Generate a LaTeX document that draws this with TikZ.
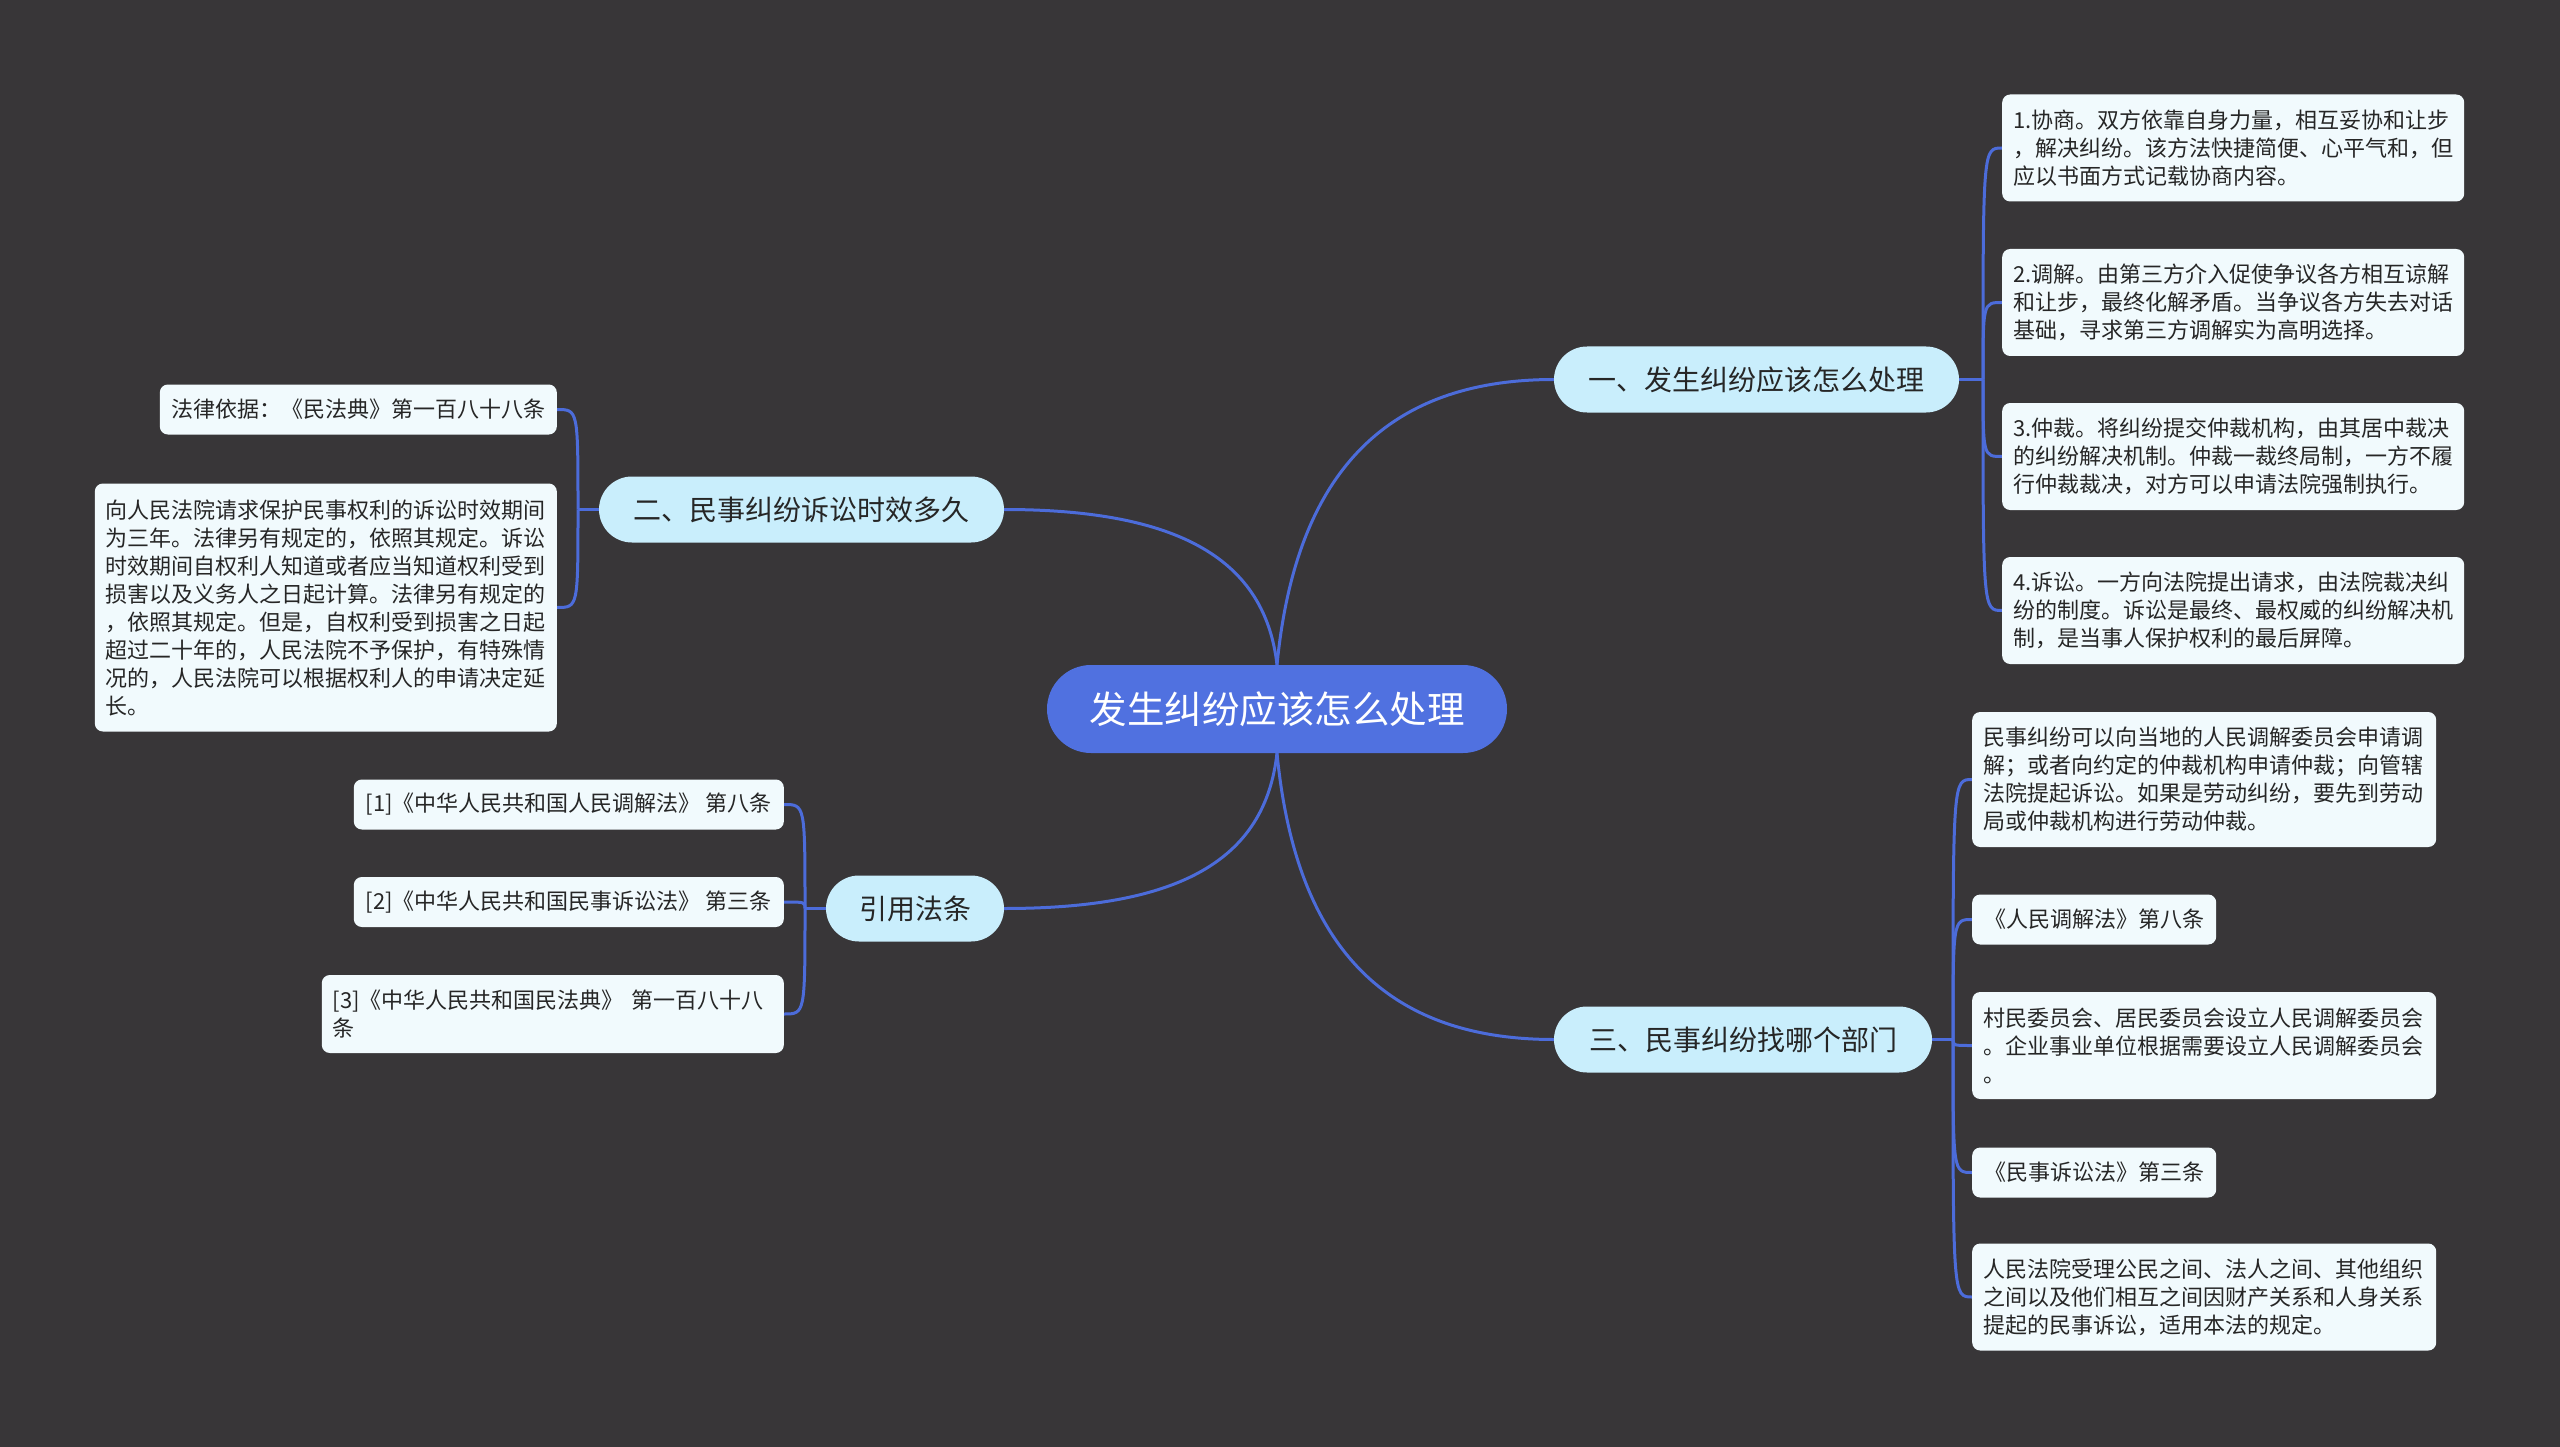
\documentclass[tikz,border=0pt]{standalone}
\usepackage{fontspec}
\newfontfamily\cjk{Noto Sans CJK SC}
\definecolor{bgcol}{HTML}{383638}
\definecolor{linecol}{HTML}{4C6CDA}
\definecolor{centerfill}{HTML}{5071E0}
\definecolor{branchfill}{HTML}{C9EEFC}
\definecolor{leaffill}{HTML}{F1FAFD}
\definecolor{txt}{HTML}{262626}
\pgfdeclarelayer{bglayer}
\pgfsetlayers{bglayer,main}
\begin{document}
\begin{tikzpicture}[x=1pt,y=-1pt,
  conn/.style={draw=linecol,line width=3pt},
  centralnode/.style={fill=centerfill,rounded corners=44pt,minimum width=460pt,minimum height=88pt,inner sep=0pt,text=white,font=\cjk\fontsize{37.5}{44}\selectfont},
  branchnode/.style={fill=branchfill,rounded corners=33pt,minimum height=66pt,inner xsep=20pt,inner ysep=0pt,text=txt,font=\cjk\fontsize{28}{34}\selectfont},
  leafnode/.style={fill=leaffill,rounded corners=8pt,inner xsep=11pt,inner ysep=0pt,text=txt,font=\cjk\fontsize{22}{28}\selectfont,align=left}]
\begin{pgfonlayer}{bglayer}
\fill[bgcol] (0,0) rectangle (2560,1447);
\end{pgfonlayer}
\useasboundingbox (0,0) rectangle (2560,1447);

% central and branches
\node[centralnode] (c) at (1277,709) {发生纠纷应该怎么处理};
\node[branchnode,minimum width=405pt] (b1) at (1756.5,379.5) {一、发生纠纷应该怎么处理};
\node[branchnode,minimum width=405pt] (b2) at (801.5,509.5) {二、民事纠纷诉讼时效多久};
\node[branchnode,minimum width=378pt] (b3) at (1743,1039.5) {三、民事纠纷找哪个部门};
\node[branchnode,minimum width=178pt] (b4) at (915,908.5) {引用法条};

% right top leaves
\node[leafnode,anchor=west,text width=440pt,minimum height=107pt] (l1) at (2002,148) {1.协商。双方依靠自身力量，相互妥协和让步\\，解决纠纷。该方法快捷简便、心平气和，但\\应以书面方式记载协商内容。};
\node[leafnode,anchor=west,text width=440pt,minimum height=107pt] (l2) at (2002,302.5) {2.调解。由第三方介入促使争议各方相互谅解\\和让步，最终化解矛盾。当争议各方失去对话\\基础，寻求第三方调解实为高明选择。};
\node[leafnode,anchor=west,text width=440pt,minimum height=107pt] (l3) at (2002,456.5) {3.仲裁。将纠纷提交仲裁机构，由其居中裁决\\的纠纷解决机制。仲裁一裁终局制，一方不履\\行仲裁裁决，对方可以申请法院强制执行。};
\node[leafnode,anchor=west,text width=440pt,minimum height=107pt] (l4) at (2002,610.5) {4.诉讼。一方向法院提出请求，由法院裁决纠\\纷的制度。诉讼是最终、最权威的纠纷解决机\\制，是当事人保护权利的最后屏障。};

% right bottom leaves
\node[leafnode,anchor=west,text width=442pt,minimum height=135pt] (r1) at (1972,779.5) {民事纠纷可以向当地的人民调解委员会申请调\\解；或者向约定的仲裁机构申请仲裁；向管辖\\法院提起诉讼。如果是劳动纠纷，要先到劳动\\局或仲裁机构进行劳动仲裁。};
\node[leafnode,anchor=west,minimum width=244pt,minimum height=50pt] (r2) at (1972,919.5) {《人民调解法》第八条};
\node[leafnode,anchor=west,text width=442pt,minimum height=107pt] (r3) at (1972,1045.5) {村民委员会、居民委员会设立人民调解委员会\\。企业事业单位根据需要设立人民调解委员会\\。};
\node[leafnode,anchor=west,minimum width=244pt,minimum height=50pt] (r4) at (1972,1172.5) {《民事诉讼法》第三条};
\node[leafnode,anchor=west,text width=442pt,minimum height=107pt] (r5) at (1972,1297) {人民法院受理公民之间、法人之间、其他组织\\之间以及他们相互之间因财产关系和人身关系\\提起的民事诉讼，适用本法的规定。};

% left leaves
\node[leafnode,anchor=east,minimum width=397pt,minimum height=50pt] (la) at (557,409.5) {法律依据：《民法典》第一百八十八条};
\node[leafnode,anchor=east,text width=440pt,minimum height=248pt] (lb) at (557,607.5) {向人民法院请求保护民事权利的诉讼时效期间\\为三年。法律另有规定的，依照其规定。诉讼\\时效期间自权利人知道或者应当知道权利受到\\损害以及义务人之日起计算。法律另有规定的\\，依照其规定。但是，自权利受到损害之日起\\超过二十年的，人民法院不予保护，有特殊情\\况的，人民法院可以根据权利人的申请决定延\\长。};
\node[leafnode,anchor=east,minimum width=430pt,minimum height=50pt] (c1) at (784,804.5) {[1]《中华人民共和国人民调解法》 第八条};
\node[leafnode,anchor=east,minimum width=430pt,minimum height=50pt] (c2) at (784,902) {[2]《中华人民共和国民事诉讼法》 第三条};
\node[leafnode,anchor=east,text width=440pt,minimum height=78pt] (c3) at (784,1014) {[3]《中华人民共和国民法典》 第一百八十八\\条};

\coordinate (p1) at (1983,379.5);
\coordinate (p2) at (578,509.5);
\coordinate (p3) at (1953,1039.5);
\coordinate (p4) at (805,908.5);

\begin{pgfonlayer}{bglayer}
\draw[conn] (c.north) .. controls (1295,480) and (1380,379.5) .. (b1.west);
\draw[conn] (c.north) .. controls (1265,560) and (1180,509.5) .. (b2.east);
\draw[conn] (c.south) .. controls (1295,940) and (1380,1039.5) .. (b3.west);
\draw[conn] (c.south) .. controls (1265,860) and (1180,908.5) .. (b4.east);

\draw[conn] (b1.east) -- (p1);
\foreach \n in {l1,l2,l3,l4}
  \draw[conn] (p1) .. controls (p1 |- \n.west) .. (\n.west);
\draw[conn] (b3.east) -- (p3);
\foreach \n in {r1,r2,r3,r4,r5}
  \draw[conn] (p3) .. controls (p3 |- \n.west) .. (\n.west);
\draw[conn] (b2.west) -- (p2);
\foreach \n in {la,lb}
  \draw[conn] (p2) .. controls (p2 |- \n.east) .. (\n.east);
\draw[conn] (b4.west) -- (p4);
\foreach \n in {c1,c2,c3}
  \draw[conn] (p4) .. controls (p4 |- \n.east) .. (\n.east);
\end{pgfonlayer}
\end{tikzpicture}
\end{document}
